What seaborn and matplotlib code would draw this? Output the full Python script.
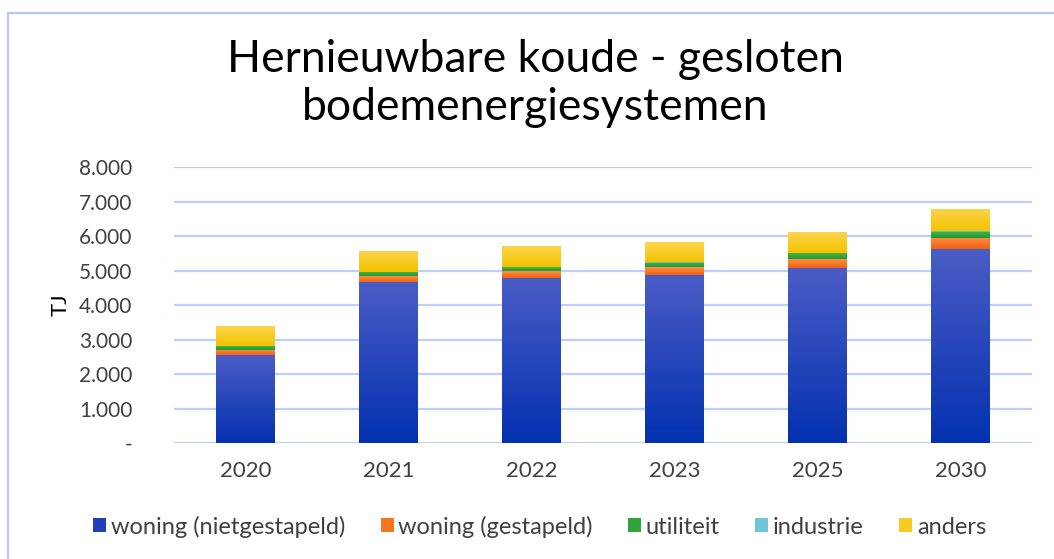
import numpy as np
import pandas as pd
import seaborn as sns
import matplotlib.pyplot as plt
from matplotlib.colors import LinearSegmentedColormap
from matplotlib.patches import Rectangle, Patch
from matplotlib.ticker import FuncFormatter, MultipleLocator

jaren = ["2020", "2021", "2022", "2023", "2025", "2030"]
woning_nietgestapeld = [2550, 4680, 4780, 4870, 5080, 5620]
woning_gestapeld = [145, 165, 200, 230, 250, 320]
utiliteit = [115, 115, 115, 128, 165, 175]
industrie = [8, 8, 10, 30, 12, 30]
anders = [580, 610, 610, 570, 615, 640]

series = [
    ("woning (nietgestapeld)", woning_nietgestapeld, "#4a5cc6", "#0431b0"),
    ("woning (gestapeld)", woning_gestapeld, "#ff8f45", "#f0620f"),
    ("utiliteit", utiliteit, "#45b44a", "#1f9a2e"),
    ("industrie", industrie, "#7fd0de", "#5bbccd"),
    ("anders", anders, "#fcd44e", "#f4c300"),
]
legend_kleuren = ["#1f3fb8", "#f8741f", "#2fa53a", "#6cc6d6", "#f8cb22"]

sns.set_theme(style="white")
plt.rcParams["font.family"] = ["Lato", "DejaVu Sans"]
text_col = "#404040"
grid_col = "#bccffa"

fig = plt.figure(figsize=(10.54, 5.59), dpi=100)
ax = fig.add_axes([0.165, 0.2075, 0.814, 0.4937])

df = pd.DataFrame({"jaar": jaren})
bottom = np.zeros(len(jaren))
segs = []
for naam, vals, top_c, bot_c in series:
    df[naam] = vals
    n_before = len(ax.patches)
    sns.barplot(data=df, x="jaar", y=naam, order=jaren, bottom=bottom.copy(),
                color=top_c, width=0.41, saturation=1, linewidth=0, ax=ax, zorder=3)
    for p in ax.patches[n_before:]:
        segs.append((p, top_c, bot_c))
    bottom += np.array(vals)

# verticaal kleurverloop per segment
for p, top_c, bot_c in segs:
    cmap = LinearSegmentedColormap.from_list("g", [bot_c, top_c])
    x0, y0 = p.get_x(), p.get_y()
    x1, y1 = x0 + p.get_width(), y0 + p.get_height()
    grad = np.linspace(1, 0, 64).reshape(-1, 1)
    im = ax.imshow(grad, cmap=cmap, aspect="auto", extent=[x0, x1, y0, y1],
                   zorder=4, interpolation="bilinear", vmin=0, vmax=1)
    im.set_clip_path(p)

ax.set_xlim(-0.5, len(jaren) - 0.5)
ax.set_ylim(0, 8000)
ax.yaxis.set_major_locator(MultipleLocator(1000))
ax.yaxis.set_major_formatter(FuncFormatter(
    lambda v, pos: "-" if v == 0 else f"{int(v):,}".replace(",", ".")))
ax.grid(axis="y", color=grid_col, linewidth=1.6, zorder=0)
ax.grid(axis="x", visible=False)
for s in ax.spines.values():
    s.set_visible(False)
ax.tick_params(axis="both", length=0, colors=text_col)
ax.tick_params(axis="y", pad=30, labelsize=15)
ax.tick_params(axis="x", pad=13, labelsize=16)
ax.set_xlabel("")
ax.set_ylabel("TJ", fontsize=16, color="#000000", labelpad=6)

fig.suptitle("Hernieuwbare koude - gesloten\nbodemenergiesystemen",
             x=0.508, y=0.93, fontsize=32, color="#000000",
             fontweight="normal", linespacing=1.22)

handles = [Patch(facecolor=c, edgecolor="none") for c in legend_kleuren]
fig.legend(handles, [s[0] for s in series], loc="center", ncol=5,
           bbox_to_anchor=(0.512, 0.058), frameon=False, fontsize=17,
           handlelength=0.55, handleheight=0.55, handletextpad=0.2,
           columnspacing=1.5, labelcolor=text_col)

fig.patches.append(Rectangle((8 / 1054, -0.1), 1.2, 1 - 13 / 559 + 0.1,
                             transform=fig.transFigure, fill=False,
                             edgecolor="#b6c8f8", linewidth=1.6))

fig.savefig("out.png", dpi=100)
